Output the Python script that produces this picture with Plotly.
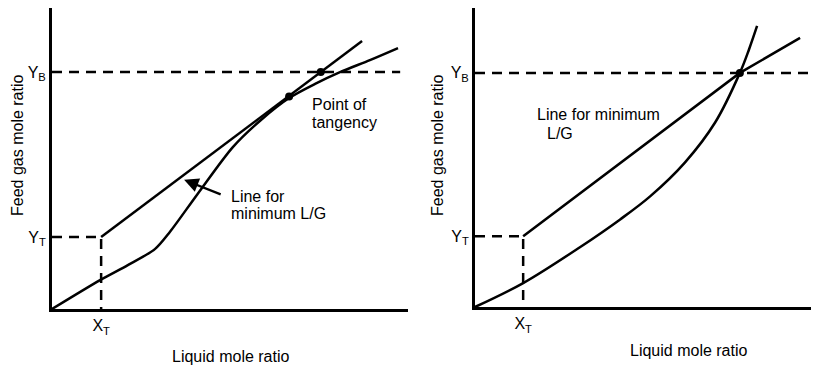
import plotly.graph_objects as go

# ---------------- data (normalised axis units) ----------------
# Left panel: equilibrium curve (S-shaped) and operating line tangent to it
eq_left_x = [0, 0.135, 0.213, 0.289, 0.331, 0.407, 0.508, 0.587, 0.666, 0.739, 0.809, 0.893, 0.972]
eq_left_y = [0, 0.096, 0.146, 0.199, 0.256, 0.379, 0.538, 0.628, 0.701, 0.748, 0.787, 0.827, 0.867]
op_left_x = [0.138, 0.871]
op_left_y = [0.239, 0.890]
dots_left_x = [0.666, 0.755]
dots_left_y = [0.706, 0.787]
xt_left, yt_left, yb_left, yb_left_end = 0.138, 0.239, 0.787, 0.978

# Right panel: convex equilibrium curve and operating line meeting at Y_B
eq_right_x = [0, 0.140, 0.305, 0.422, 0.509, 0.610, 0.698, 0.770, 0.797, 0.820]
eq_right_y = [0, 0.080, 0.200, 0.293, 0.370, 0.483, 0.617, 0.783, 0.863, 0.940]
op_right_x = [0.140, 0.770, 0.945]
op_right_y = [0.237, 0.783, 0.900]
dots_right_x = [0.770]
dots_right_y = [0.783]
xt_right, yt_right, yb_right, yb_right_end = 0.140, 0.237, 0.783, 1.0

y_tick_labels = ["Y<sub>T</sub>", "Y<sub>B</sub>"]
x_tick_labels = ["X<sub>T</sub>"]

FONT = "Liberation Sans, Arial, Helvetica, sans-serif"
LW = 2.5
DASH = "10px,7px"

# page has an 8px body margin: figure is placed at (8, 8)
OFF = 8
W, H = 811, 360

def fx(px):
    return (px - OFF) / W

def fy(py):
    return 1 - (py - OFF) / H

fig = go.Figure()

def add_panel(xa, ya, eqx, eqy, opx, opy, dx, dy, xt, yt, yb, yb_end, smooth):
    fig.add_trace(go.Scatter(x=eqx, y=eqy, mode="lines", xaxis=xa, yaxis=ya,
                             line=dict(color="black", width=LW, shape="spline", smoothing=smooth),
                             hoverinfo="skip", showlegend=False))
    fig.add_trace(go.Scatter(x=opx, y=opy, mode="lines", xaxis=xa, yaxis=ya,
                             line=dict(color="black", width=LW),
                             hoverinfo="skip", showlegend=False))
    fig.add_trace(go.Scatter(x=[0, yb_end], y=[yb, yb], mode="lines", xaxis=xa, yaxis=ya,
                             line=dict(color="black", width=LW, dash=DASH),
                             hoverinfo="skip", showlegend=False))
    fig.add_trace(go.Scatter(x=[0, xt, xt], y=[yt, yt, 0], mode="lines", xaxis=xa, yaxis=ya,
                             line=dict(color="black", width=LW, dash=DASH),
                             hoverinfo="skip", showlegend=False))
    fig.add_trace(go.Scatter(x=dx, y=dy, mode="markers", xaxis=xa, yaxis=ya,
                             marker=dict(color="black", size=8),
                             hoverinfo="skip", showlegend=False, cliponaxis=False))

add_panel("x", "y", eq_left_x, eq_left_y, op_left_x, op_left_y, dots_left_x, dots_left_y,
          xt_left, yt_left, yb_left, yb_left_end, 0.8)
add_panel("x2", "y2", eq_right_x, eq_right_y, op_right_x, op_right_y, dots_right_x, dots_right_y,
          xt_right, yt_right, yb_right, yb_right_end, 1.0)

axis_common = dict(range=[0, 1], showgrid=False, zeroline=False, showline=True,
                   linecolor="black", linewidth=3, ticks="", fixedrange=True,
                   tickfont=dict(family=FONT, size=16, color="black"))

fig.update_layout(
    width=W, height=H, margin=dict(l=0, r=0, t=0, b=0),
    paper_bgcolor="white", plot_bgcolor="white",
    font=dict(family=FONT, size=16, color="black"),
    xaxis=dict(domain=[fx(52), fx(408)], anchor="y", tickvals=[xt_left], ticktext=x_tick_labels, **axis_common),
    yaxis=dict(domain=[fy(309), fy(8)], anchor="x", tickvals=[yt_left, yb_left],
               ticktext=y_tick_labels, **axis_common),
    xaxis2=dict(domain=[fx(475), 1.0], anchor="y2", tickvals=[xt_right], ticktext=x_tick_labels, **axis_common),
    yaxis2=dict(domain=[fy(307), fy(8)], anchor="x2", tickvals=[yt_right, yb_right],
                ticktext=y_tick_labels, **axis_common),
)

ann = []
def txt(x, y, xref, yref, s, xanchor="left"):
    ann.append(dict(x=x, y=y, xref=xref, yref=yref, text=s, showarrow=False,
                    xanchor=xanchor, yanchor="middle", font=dict(family=FONT, size=16, color="black")))

# left panel labels
txt(0.725, 0.678, "x", "y", "Point of")
txt(0.725, 0.618, "x", "y", "tangency")
txt(0.497, 0.375, "x", "y", "Line for")
txt(0.497, 0.316, "x", "y", "minimum L/G")
ann.append(dict(x=0.371, y=0.429, xref="x", yref="y", ax=0.478, ay=0.379, axref="x", ayref="y",
                text="", showarrow=True, arrowhead=2, arrowsize=1.2, arrowwidth=2.4, arrowcolor="black"))
# right panel labels
txt(0.174, 0.643, "x2", "y2", "Line for minimum")
txt(0.203, 0.580, "x2", "y2", "L/G")

# axis titles (placed from pixel positions)
for cx, cy, s, ang in [(231, 356, "Liquid mole ratio", 0), (689, 350, "Liquid mole ratio", 0),
                       (17, 145, "Feed gas mole ratio", -90), (437, 145, "Feed gas mole ratio", -90)]:
    ann.append(dict(x=fx(cx), y=fy(cy), xref="paper", yref="paper", text=s, showarrow=False,
                    textangle=ang, xanchor="center", yanchor="middle",
                    font=dict(family=FONT, size=16, color="black")))

fig.update_layout(annotations=ann)
fig.write_html("out.html")
